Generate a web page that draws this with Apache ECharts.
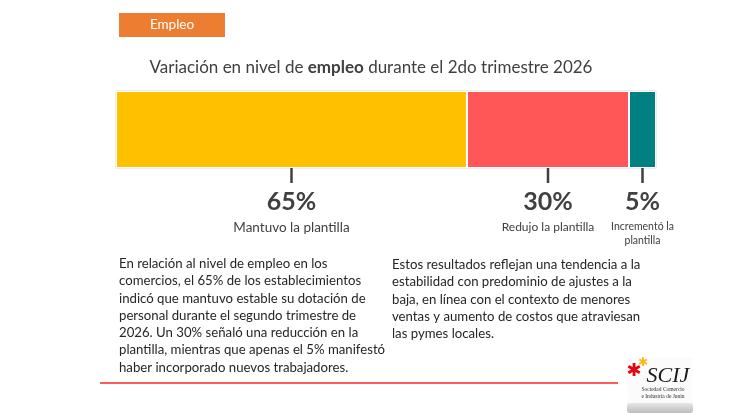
<!DOCTYPE html>
<html><head><meta charset="utf-8">
<script src="https://cdn.jsdelivr.net/npm/echarts@6/dist/echarts.min.js"></script>
<style>html,body{margin:0;padding:0;background:#fff}#c{width:730px;height:413px}</style>
</head><body><div id="c"></div>
<script>
const categories = ['Mantuvo la plantilla', 'Redujo la plantilla', 'Incrementó la\nplantilla'];
const values = [65, 30, 5];
const colors = ['#FFC000', '#FF5757', '#008080'];
const labelSizes = [13.5, 12, 10.5];

const leftText = 'En relación al nivel de empleo en los\ncomercios, el 65% de los establecimientos\nindicó que mantuvo estable su dotación de\npersonal durante el segundo trimestre de\n2026. Un 30% señaló una reducción en la\nplantilla, mientras que apenas el 5% manifestó\nhaber incorporado nuevos trabajadores.';
const rightText = 'Estos resultados reflejan una tendencia a la\nestabilidad con predominio de ajustes a la\nbaja, en línea con el contexto de menores\nventas y aumento de costos que atraviesan\nlas pymes locales.';

const FONT = 'Lato, "Noto Sans", sans-serif';
const chart = echarts.init(document.getElementById('c'));

let starts = []; let acc = 0;
values.forEach(v => { starts.push(acc); acc += v; });

const barSeries = values.map((v, i) => ({
  type: 'bar', stack: 'total', name: categories[i], barWidth: 77,
  data: [v], itemStyle: { color: colors[i], borderColor: '#fff', borderWidth: 1 },
  silent: true, z: 2
}));

chart.setOption({
  animation: false,
  title: {
    text: '{n|Variación en nivel de }{b|empleo}{n| durante el 2do trimestre 2026}',
    left: 366, top: 54, textAlign: 'center',
    textStyle: { fontWeight: 'normal', rich: {
      n: { fontFamily: FONT, fontSize: 17, color: '#404040', fontWeight: 'normal' },
      b: { fontFamily: FONT, fontSize: 17, color: '#404040', fontWeight: 'bold' }
    } }
  },
  grid: { left: 116, right: 74, top: 91, height: 77, show: true, borderColor: '#d9d9d9', borderWidth: 1, backgroundColor: 'transparent' },
  xAxis: { type: 'value', min: 0, max: 100, show: false },
  yAxis: { type: 'category', data: ['Empleo'], show: false },
  series: barSeries.concat([{
    type: 'custom', silent: true, z: 5,
    data: values.map((v, i) => [starts[i], v, i]),
    encode: { x: [0, 1] },
    renderItem: function (params, api) {
      const i = api.value(2);
      const mid = api.value(0) + api.value(1) / 2;
      const p = api.coord([mid, 0]);
      const y0 = p[1] + 77 / 2;
      return { type: 'group', children: [
        { type: 'line', shape: { x1: p[0], y1: y0, x2: p[0], y2: y0 + 15 }, style: { stroke: '#404040', lineWidth: 2.5 } },
        { type: 'text', x: p[0], y: y0 + 34, style: { text: values[i] + '%', fill: '#404040', font: 'bold 25px ' + FONT, textAlign: 'center', textVerticalAlign: 'middle' } },
        { type: 'text', x: p[0], y: y0 + 51, style: { text: categories[i], fill: '#404040', font: labelSizes[i] + 'px ' + FONT, textAlign: 'center', textVerticalAlign: 'top', lineHeight: labelSizes[i] + 4 } }
      ] };
    }
  }]),
  graphic: [
    { type: 'rect', shape: { x: 119, y: 13, width: 106, height: 24 }, style: { fill: '#ED7D31' } },
    { type: 'text', x: 172, y: 25, style: { text: 'Empleo', fill: '#fff', font: '13.5px ' + FONT, textAlign: 'center', textVerticalAlign: 'middle' } },
    { type: 'text', x: 119, y: 255, style: { text: leftText, fill: '#262626', font: '13.2px ' + FONT, lineHeight: 17.3 } },
    { type: 'text', x: 392, y: 256, style: { text: rightText, fill: '#262626', font: '13.2px ' + FONT, lineHeight: 17.3 } },
    { type: 'line', shape: { x1: 100, y1: 383, x2: 618, y2: 383 }, style: { stroke: '#FF5B5B', lineWidth: 2 } },
    { type: 'group', x: 627, y: 357, children: [
      { type: 'rect', shape: { x: 0, y: 0, width: 66, height: 56, r: 3 }, style: { fill: '#fbfbfb' } },
      { type: 'rect', shape: { x: 0, y: 46, width: 66, height: 10, r: 3 }, style: { fill: new echarts.graphic.LinearGradient(0, 0, 0, 1, [{ offset: 0, color: '#e6e6e6' }, { offset: 1, color: '#bdbdbd' }]) } },
      { type: 'text', x: 7, y: 14, style: { text: '✱', fill: '#E30613', font: 'bold 18px "DejaVu Sans", sans-serif', textAlign: 'center', textVerticalAlign: 'middle' } },
      { type: 'text', x: 16, y: 6, style: { text: '✱', fill: '#F9B914', font: 'bold 12px "DejaVu Sans", sans-serif', textAlign: 'center', textVerticalAlign: 'middle' } },
      { type: 'text', x: 41, y: 19, style: { text: 'SCIJ', fill: '#1a1a1a', font: 'italic 22px "Liberation Serif", serif', textAlign: 'center', textVerticalAlign: 'middle' } },
      { type: 'text', x: 36, y: 36, style: { text: 'Sociedad Comercio\ne Industria de Junín', fill: '#333', font: '5.5px "Liberation Serif", serif', textAlign: 'center', textVerticalAlign: 'middle', lineHeight: 6.5 } }
    ] }
  ]
});
</script></body></html>
